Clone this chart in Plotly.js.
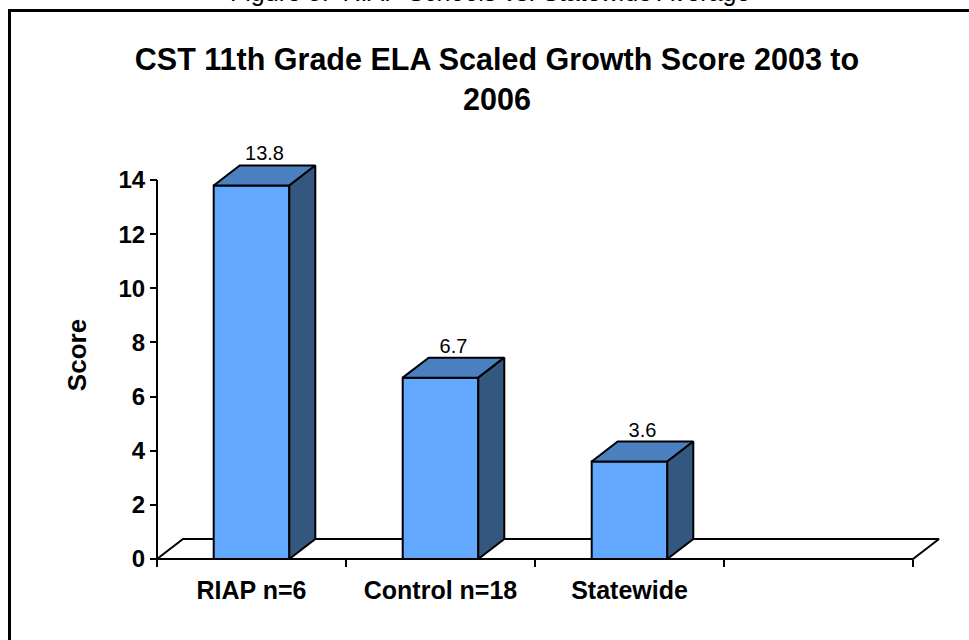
<!DOCTYPE html>
<html><head><meta charset="utf-8">
<script src="https://cdn.plot.ly/plotly-3.0.1.min.js"></script>
<style>html,body{margin:0;padding:0;background:#fff}#chart{width:969px;height:640px}</style>
</head><body><div id="chart"></div>
<script>
// ---- data ----
const categories = ["RIAP n=6", "Control n=18", "Statewide"];
const values = [13.8, 6.7, 3.6];
const yTickVals = [0, 2, 4, 6, 8, 10, 12, 14];
const slotCount = 4;
const chartTitle = "CST 11th Grade ELA Scaled Growth Score 2003 to<br>2006";
const caption = "Figure 8:  RIAP Schools vs. Statewide Average";
const yTitle = "Score";

// ---- geometry / style ----
const W = 969, H = 640;
const M = {l: 40, r: 15, t: 130, b: 60};
const originX = 157, originY = 559;
const pxPerX = 189, pxPerY = 27.07;
const depthX = 26, depthY = 20;
const plotW = W - M.l - M.r, plotH = H - M.t - M.b;
const xMin = -0.5 - (originX - M.l) / pxPerX;
const xMax = xMin + plotW / pxPerX;
const yMin = -((H - M.b) - originY) / pxPerY;
const yMax = yMin + plotH / pxPerY;
const dx = depthX / pxPerX, dy = depthY / pxPerY;
const barW = 0.4;
const FRONT = "#63a8ff", TOP = "#4a7fc0", SIDE = "#34577f";
const FONT = "Liberation Sans, Arial, sans-serif";

const boundaries = [];
for (let k = 0; k <= slotCount; k++) boundaries.push(k - 0.5);

function poly(xs, ys, fill) {
  return {type: "scatter", mode: "lines", x: xs.concat([xs[0]]), y: ys.concat([ys[0]]),
    fill: "toself", fillcolor: fill, line: {color: "#000", width: 2},
    hoverinfo: "skip", showlegend: false};
}

const traces = [];
const x0 = boundaries[0], x1 = boundaries[boundaries.length - 1];
traces.push(poly([x0, x1, x1 + dx, x0 + dx], [0, 0, dy, dy], "#ffffff"));
traces.push({type: "scatter", mode: "lines", x: [x0, x0], y: [0, yTickVals[yTickVals.length - 1]],
  line: {color: "#000", width: 2}, hoverinfo: "skip", showlegend: false});

values.forEach((v, i) => {
  const a = i - barW / 2, b = i + barW / 2;
  traces.push(poly([a, b, b, a], [0, 0, v, v], FRONT));
  traces.push(poly([a, b, b + dx, a + dx], [v, v, v + dy, v + dy], TOP));
  traces.push(poly([b, b + dx, b + dx, b], [0, dy, v + dy, v], SIDE));
});

traces.push({type: "scatter", mode: "text",
  x: values.map((v, i) => i + dx / 2), y: values.map(v => v + dy),
  text: values.map(v => v.toFixed(1)), textposition: "top center",
  textfont: {family: FONT, size: 20, color: "#000"}, cliponaxis: false,
  hoverinfo: "skip", showlegend: false});

function px2paperX(px) { return (px - M.l) / plotW; }
function px2paperY(py) { return (H - M.b - py) / plotH; }

const layout = {
  width: W, height: H, margin: M,
  paper_bgcolor: "#fff", plot_bgcolor: "rgba(0,0,0,0)",
  showlegend: false,
  title: {text: chartTitle, font: {family: FONT, size: 30.5, color: "#000", weight: "bold"},
    x: 497 / W, xref: "container", xanchor: "center",
    y: 1 - 70 / H, yref: "container", yanchor: "top"},
  xaxis: {range: [xMin, xMax], anchor: "free", position: (0 - yMin) / (yMax - yMin),
    tickmode: "array", tickvals: categories.map((c, i) => i), ticktext: categories,
    ticks: "", showline: false, showgrid: false, zeroline: false, fixedrange: true,
    ticklabelstandoff: 14,
    tickfont: {family: FONT, size: 25, color: "#000", weight: "bold"},
    minor: {tickmode: "array", tickvals: boundaries, ticks: "outside", ticklen: 7,
      tickwidth: 2, tickcolor: "#000", showgrid: false}},
  yaxis: {range: [yMin, yMax], anchor: "free", position: (x0 - xMin) / (xMax - xMin),
    tickmode: "array", tickvals: yTickVals, ticks: "outside", ticklen: 7, tickwidth: 2,
    tickcolor: "#000", showline: false, showgrid: false, zeroline: false, fixedrange: true,
    tickfont: {family: FONT, size: 24, color: "#000", weight: "bold"},
    title: {text: yTitle, font: {family: FONT, size: 26, color: "#000", weight: "bold"}, standoff: 23}},
  shapes: [
    {type: "line", xref: "paper", yref: "paper", x0: px2paperX(10), y0: px2paperY(10.5),
      x1: px2paperX(W + 10), y1: px2paperY(10.5), line: {color: "#000", width: 3}},
    {type: "line", xref: "paper", yref: "paper", x0: px2paperX(9.5), y0: px2paperY(9),
      x1: px2paperX(9.5), y1: px2paperY(H + 10), line: {color: "#000", width: 3}}
  ],
  annotations: [
    {text: caption, xref: "paper", yref: "paper", x: px2paperX(490), y: px2paperY(-8),
      xanchor: "center", yanchor: "middle", showarrow: false,
      font: {family: FONT, size: 25, color: "#000"}}
  ]
};

Plotly.newPlot("chart", traces, layout, {displayModeBar: false, staticPlot: true});
</script></body></html>
